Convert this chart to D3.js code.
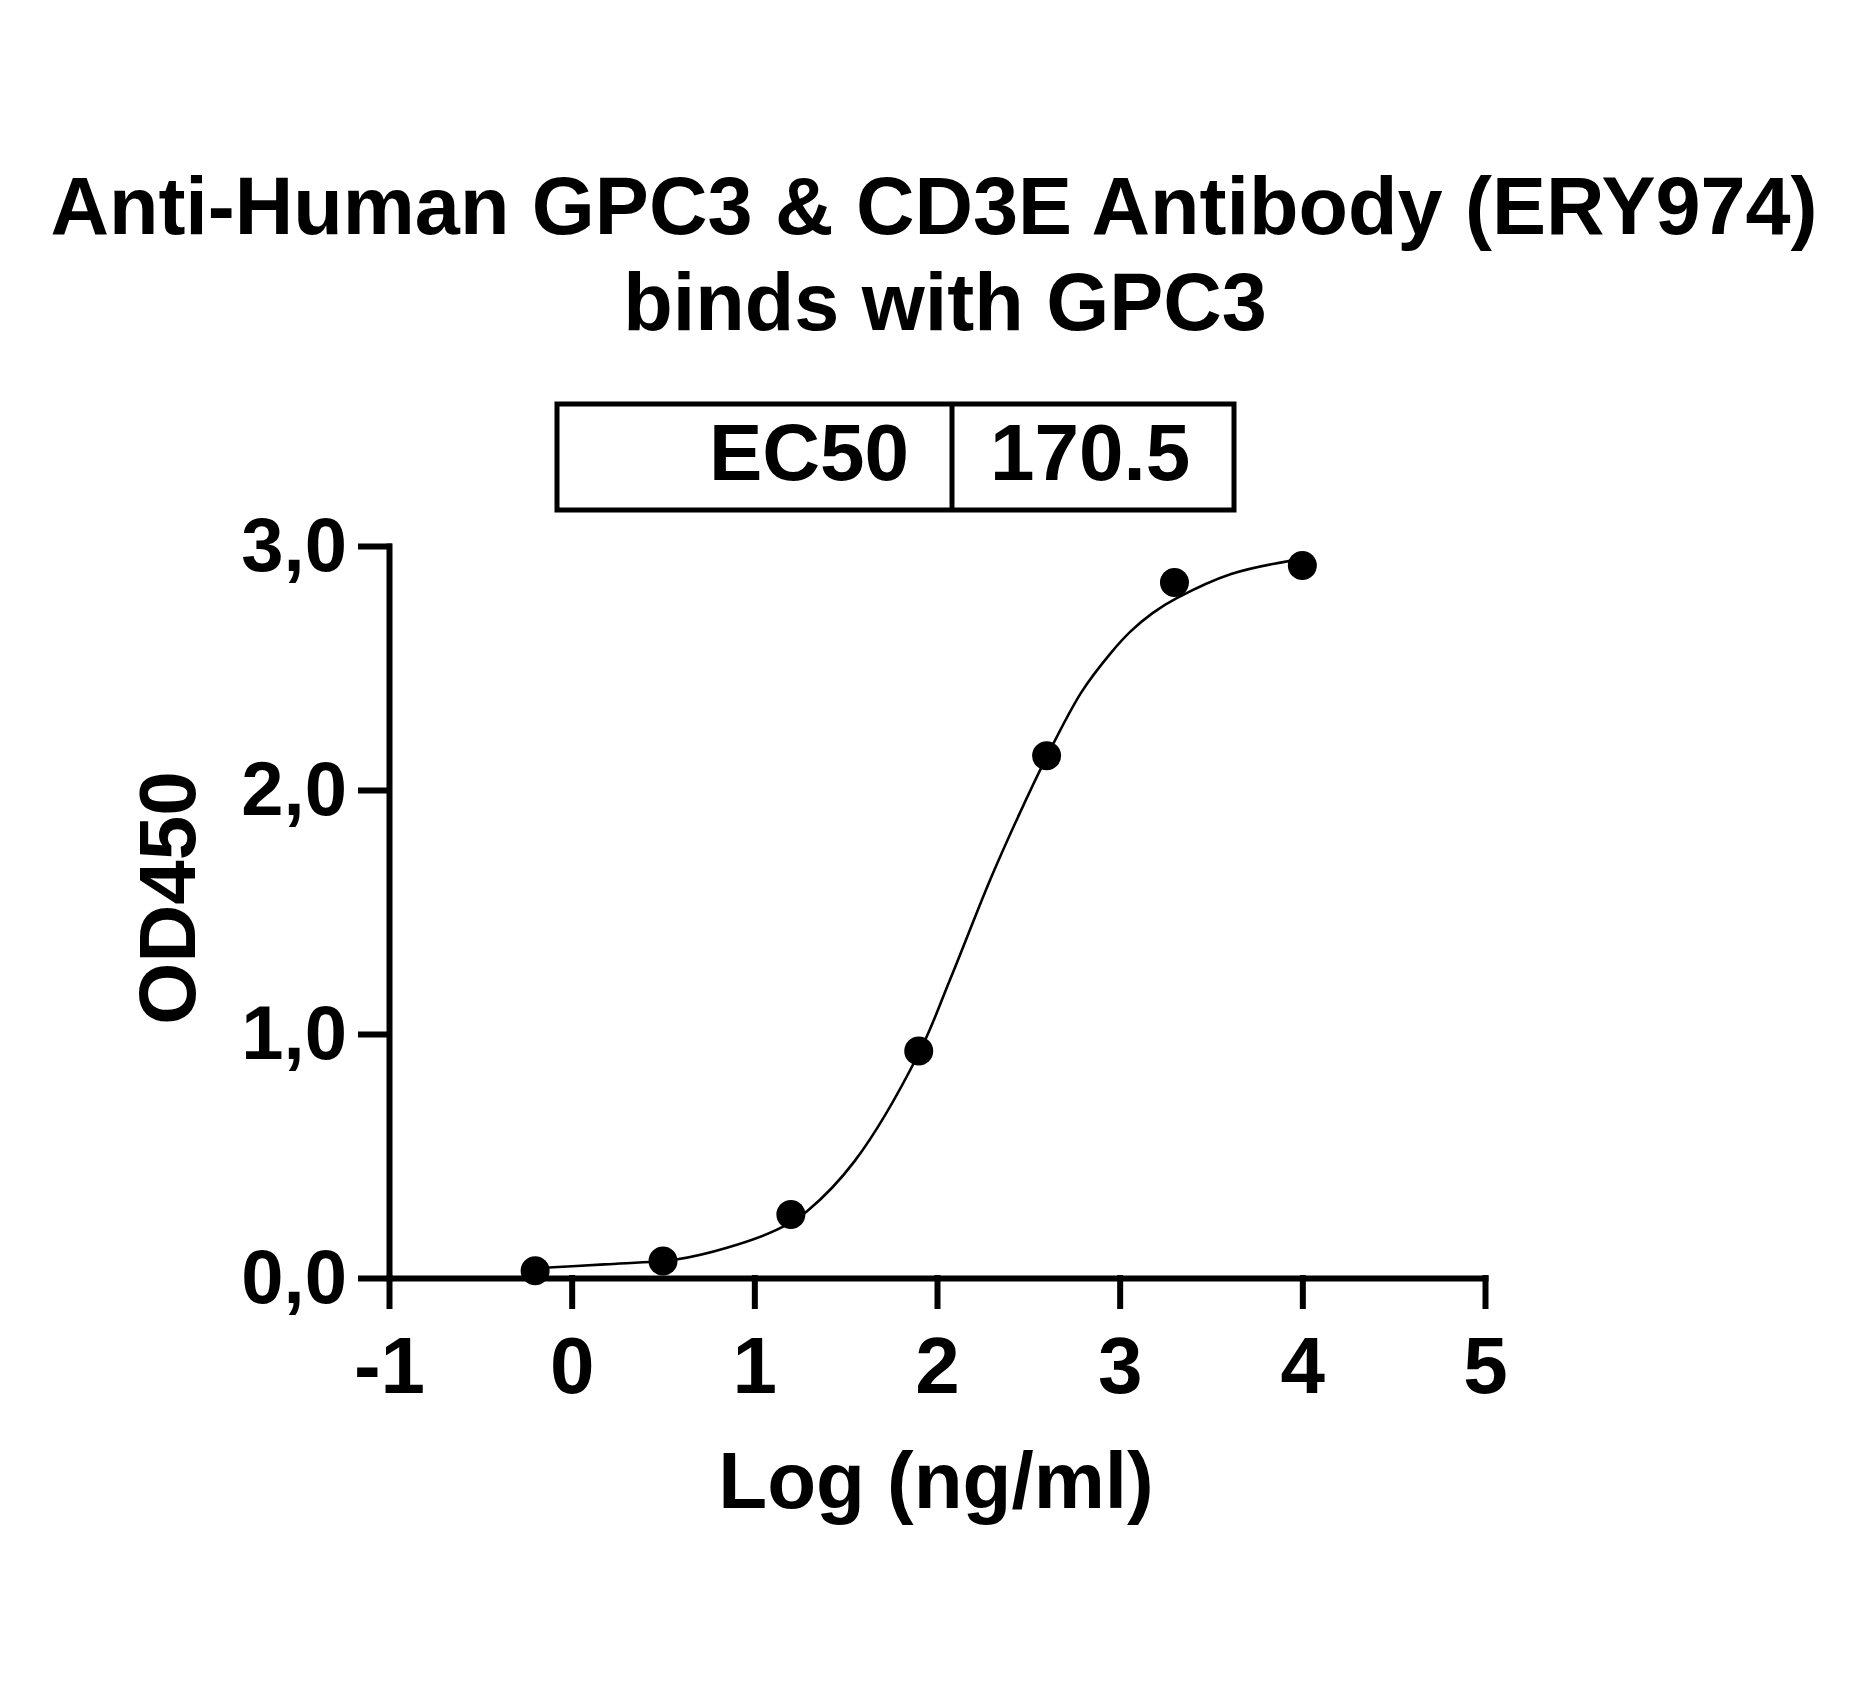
<!DOCTYPE html>
<html lang="en">
<head>
<meta charset="utf-8">
<title>ERY974 binds with GPC3</title>
<script src="https://cdn.jsdelivr.net/npm/d3@7"></script>
<style>
  body { margin: 0; background: #fff; }
  text { font-family: "Liberation Sans", Arial, sans-serif; font-weight: bold; fill: #000; }
  .axis path, .axis line { stroke: #000; stroke-width: 6; fill: none; stroke-linecap: square; }
  .axis text { font-size: 80px; }
  .axis.y text { font-size: 76px; }
</style>
</head>
<body>
<script>
// measured points: log concentration vs OD450
var logConc = [-0.2, 0.5, 1.2, 1.9, 2.6, 3.3, 4.0];
var od450 = [0.03, 0.07, 0.26, 0.93, 2.14, 2.85, 2.92];

// fitted curve
var fitX = [-0.2, 0.18, 0.58, 0.85, 1.13, 1.29, 1.55, 1.9, 2.07, 2.29, 2.45, 2.6, 2.79, 2.95, 3.06, 3.18, 3.31, 3.61, 3.94, 4.0];
var fitY = [0.04, 0.056, 0.077, 0.124, 0.20, 0.275, 0.48, 0.92, 1.22, 1.63, 1.90, 2.135, 2.40, 2.56, 2.65, 2.725, 2.785, 2.885, 2.94, 2.945];

var xTicks = [-1, 0, 1, 2, 3, 4, 5];
var xTickLabels = ["-1", "0", "1", "2", "3", "4", "5"];
var yTicks = [0, 1, 2, 3];
var yTickLabels = ["0,0", "1,0", "2,0", "3,0"];

var titleLines = ["Anti-Human GPC3 & CD3E Antibody (ERY974)", "binds with GPC3"];
var ec50Label = "EC50";
var ec50Value = "170.5";

var width = 1873, height = 1688;
var margin = { top: 546, right: 388, bottom: 410, left: 389 };
var plotW = width - margin.left - margin.right;
var plotH = height - margin.top - margin.bottom;

var svg = d3.select("body").append("svg")
    .attr("width", width)
    .attr("height", height)
    .style("background", "#fff");

// title, two centred lines
var titleX = [934, 945];
svg.selectAll("text.title")
    .data(titleLines)
    .enter()
    .append("text")
    .attr("class", "title")
    .attr("x", function(d, i) { return titleX[i]; })
    .attr("y", function(d, i) { return 234 + i * 96; })
    .attr("text-anchor", "middle")
    .style("font-size", "81px")
    .text(function(d) { return d; });

// EC50 box
var box = svg.append("g");
box.append("rect")
    .attr("x", 557).attr("y", 404)
    .attr("width", 677).attr("height", 106)
    .attr("fill", "none").attr("stroke", "#000").attr("stroke-width", 5);
box.append("line")
    .attr("x1", 952).attr("x2", 952).attr("y1", 404).attr("y2", 510)
    .attr("stroke", "#000").attr("stroke-width", 5);
box.append("text")
    .attr("x", 909).attr("y", 480)
    .attr("text-anchor", "end")
    .style("font-size", "80px")
    .text(ec50Label);
box.append("text")
    .attr("x", 990).attr("y", 480)
    .style("font-size", "80px")
    .text(ec50Value);

var g = svg.append("g")
    .attr("transform", "translate(" + margin.left + "," + margin.top + ")");

var xScale = d3.scaleLinear().domain([-1, 5]).range([0, plotW]);
var yScale = d3.scaleLinear().domain([0, 3]).range([plotH, 0]);

var xAxis = d3.axisBottom(xScale)
    .tickValues(xTicks)
    .tickFormat(function(d, i) { return xTickLabels[i]; })
    .tickSize(28)
    .tickSizeOuter(0)
    .tickPadding(30);

var yAxis = d3.axisLeft(yScale)
    .tickValues(yTicks)
    .tickFormat(function(d, i) { return yTickLabels[i]; })
    .tickSize(28)
    .tickSizeOuter(0)
    .tickPadding(14);

g.append("g")
    .attr("class", "axis x")
    .attr("transform", "translate(0," + plotH + ")")
    .call(xAxis);

g.append("g")
    .attr("class", "axis y")
    .call(yAxis);

g.selectAll(".axis text").attr("font-family", null).attr("font-size", null);

// fitted curve
var fit = fitX.map(function(x, i) { return [x, fitY[i]]; });
g.append("path")
    .datum(fit)
    .attr("fill", "none")
    .attr("stroke", "#000")
    .attr("stroke-width", 2.6)
    .attr("d", d3.line()
        .x(function(d) { return xScale(d[0]); })
        .y(function(d) { return yScale(d[1]); })
        .curve(d3.curveCatmullRom.alpha(0.5)));

// data points
g.selectAll("circle")
    .data(logConc)
    .enter()
    .append("circle")
    .attr("cx", function(d) { return xScale(d); })
    .attr("cy", function(d, i) { return yScale(od450[i]); })
    .attr("r", 14.5)
    .attr("fill", "#000");

// axis titles
svg.append("text")
    .attr("x", 936).attr("y", 1508)
    .attr("text-anchor", "middle")
    .style("font-size", "80px")
    .text("Log (ng/ml)");

svg.append("text")
    .attr("transform", "translate(195,898) rotate(-90)")
    .attr("text-anchor", "middle")
    .style("font-size", "80px")
    .text("OD450");
</script>
</body>
</html>
